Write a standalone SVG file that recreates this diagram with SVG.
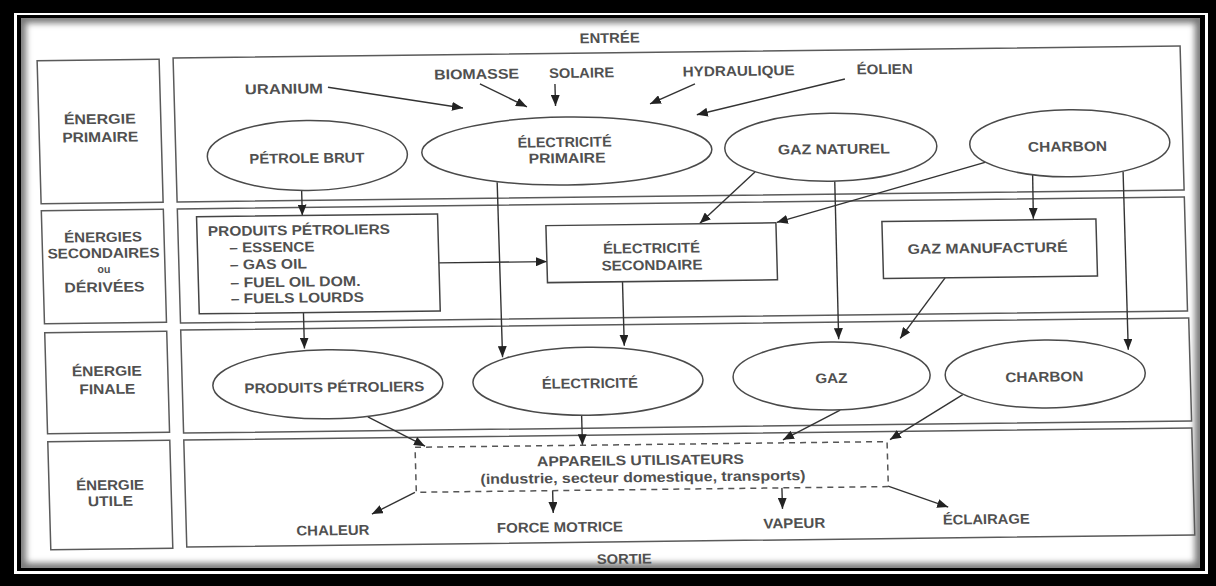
<svg xmlns="http://www.w3.org/2000/svg" width="1216" height="586" viewBox="0 0 1216 586">
<style>
.t{font-family:"Liberation Sans",Arial,sans-serif;font-size:14px;font-weight:bold;fill:#505050;text-anchor:middle}
.s{font-family:"Liberation Sans",Arial,sans-serif;font-size:14px;font-weight:bold;fill:#505050;text-anchor:start}
.box{fill:none;stroke:#5a5a5a;stroke-width:1.5}
.nd{fill:#fff;stroke:#4a4a4a;stroke-width:1.5}
.dash{fill:none;stroke:#555;stroke-width:1.5;stroke-dasharray:6 5}
.c{fill:none;stroke:#333;stroke-width:1.4;marker-end:url(#ah)}
</style>
<defs>
<marker id="ah" markerUnits="userSpaceOnUse" markerWidth="12" markerHeight="9" refX="11" refY="4.5" orient="auto">
<path d="M0,0 L11,4.5 L0,9 z" fill="#222"/>
</marker>
<clipPath id="inner"><rect x="21" y="18" width="1179" height="550"/></clipPath>
<filter id="blur" x="-5%" y="-5%" width="110%" height="110%"><feGaussianBlur stdDeviation="3"/></filter>
</defs>
<rect x="0" y="0" width="1216" height="586" fill="#000"/>
<rect x="14" y="13" width="1194" height="561" fill="#fff"/>
<rect x="17" y="15" width="1188" height="556" fill="#000"/>
<rect x="21" y="18" width="1179" height="550" fill="#fff"/>
<g clip-path="url(#inner)"><rect x="21" y="18" width="1179" height="550" fill="none" stroke="#777" stroke-width="10" filter="url(#blur)"/></g>

<g transform="matrix(1,-0.012,0.028,1,-8.4,7.2)">
<g id="frame-labels">
<text class="t" x="617" y="43" textLength="60" lengthAdjust="spacingAndGlyphs">ENTRÉE</text>
<text class="t" x="617" y="564" textLength="55" lengthAdjust="spacingAndGlyphs">SORTIE</text>
</g>
<g id="row-primaire">
<rect class="box" x="44" y="54" width="122" height="143"/>
<rect class="box" x="180" y="53" width="1007" height="144"/>
<text class="t" x="105" y="118" textLength="72" lengthAdjust="spacingAndGlyphs">ÉNERGIE</text>
<text class="t" x="105" y="136" textLength="76" lengthAdjust="spacingAndGlyphs">PRIMAIRE</text>
</g>
<g id="row-secondaire">
<rect class="box" x="44" y="204" width="122" height="113"/>
<rect class="box" x="180" y="204" width="1007" height="114"/>
<text class="t" x="105" y="236" textLength="78" lengthAdjust="spacingAndGlyphs">ÉNERGIES</text>
<text class="t" x="105" y="252" textLength="112" lengthAdjust="spacingAndGlyphs">SECONDAIRES</text>
<text class="t" x="105" y="267" style="font-size:11px" textLength="13" lengthAdjust="spacingAndGlyphs">ou</text>
<text class="t" x="105" y="286" textLength="80" lengthAdjust="spacingAndGlyphs">DÉRIVÉES</text>
</g>
<g id="row-finale">
<rect class="box" x="44" y="326" width="122" height="101"/>
<rect class="box" x="180" y="325" width="1008" height="103"/>
<text class="t" x="105" y="370" textLength="70" lengthAdjust="spacingAndGlyphs">ÉNERGIE</text>
<text class="t" x="105" y="388" textLength="56" lengthAdjust="spacingAndGlyphs">FINALE</text>
</g>
<g id="row-utile">
<rect class="box" x="44" y="435" width="122" height="108"/>
<rect class="box" x="180" y="435" width="1008" height="107"/>
<text class="t" x="105" y="484" textLength="68" lengthAdjust="spacingAndGlyphs">ÉNERGIE</text>
<text class="t" x="105" y="500" textLength="45" lengthAdjust="spacingAndGlyphs">UTILE</text>
</g>

<g id="connectors">
<path class="c" d="M334,84 L468.4,106.4"/>
<path class="c" d="M486,82.6 L532.4,106"/>
<path class="c" d="M561,83.5 L561,105.5"/>
<path class="c" d="M701,85 L655.5,104.6"/>
<path class="c" d="M851,82 L702,116"/>
<path class="c" d="M304.8,187 L304.8,212"/>
<path class="c" d="M303.2,309 L303.2,345"/>
<path class="c" d="M440,261 L548,261"/>
<path class="c" d="M500.5,181 L501,356"/>
<path class="c" d="M623,282 L623,346"/>
<path class="c" d="M758.5,174 L702,224.5"/>
<path class="c" d="M988.7,167 L779,224.5"/>
<path class="c" d="M838,184 L837.5,342"/>
<path class="c" d="M1036,180 L1035.5,224"/>
<path class="c" d="M1126.5,178 L1126.7,356"/>
<path class="c" d="M945.6,282 L899,342"/>
<path class="c" d="M364.7,414 L421,444"/>
<path class="c" d="M578.4,415 L578.4,445"/>
<path class="c" d="M837,413 L779,442"/>
<path class="c" d="M960,399 L886,443"/>
<path class="c" d="M409.6,490 L366,511.3"/>
<path class="c" d="M547.3,490 L547.3,512.4"/>
<path class="c" d="M776.6,490 L776.6,511"/>
<path class="c" d="M882.8,489.5 L942.3,511.2"/>
</g>

<g id="sources">
<text class="t" x="290" y="90" textLength="78" lengthAdjust="spacingAndGlyphs">URANIUM</text>
<text class="t" x="483" y="77.5" textLength="85" lengthAdjust="spacingAndGlyphs">BIOMASSE</text>
<text class="t" x="588" y="77.5" textLength="65" lengthAdjust="spacingAndGlyphs">SOLAIRE</text>
<text class="t" x="745" y="77.5" textLength="112" lengthAdjust="spacingAndGlyphs">HYDRAULIQUE</text>
<text class="t" x="891" y="77.5" textLength="56" lengthAdjust="spacingAndGlyphs">ÉOLIEN</text>
</g>

<g id="petrole-brut">
<ellipse class="nd" cx="311.5" cy="152" rx="100" ry="35"/>
<text class="t" x="311" y="159.5" textLength="115" lengthAdjust="spacingAndGlyphs">PÉTROLE BRUT</text>
</g>
<g id="electricite-primaire">
<ellipse class="nd" cx="571" cy="150.6" rx="145" ry="34"/>
<text class="t" x="569" y="146.6" textLength="94" lengthAdjust="spacingAndGlyphs">ÉLECTRICITÉ</text>
<text class="t" x="571" y="162.6" textLength="77" lengthAdjust="spacingAndGlyphs">PRIMAIRE</text>
</g>
<g id="gaz-naturel">
<ellipse class="nd" cx="835" cy="150" rx="106" ry="34"/>
<text class="t" x="838" y="156.8" textLength="112" lengthAdjust="spacingAndGlyphs">GAZ NATUREL</text>
</g>
<g id="charbon-primaire">
<ellipse class="nd" cx="1074" cy="149" rx="100" ry="33.5"/>
<text class="t" x="1071.6" y="157" textLength="79" lengthAdjust="spacingAndGlyphs">CHARBON</text>
</g>

<g id="produits-petroliers-box">
<rect class="box" x="199" y="212" width="241" height="97" style="stroke:#444"/>
<text class="s" x="210" y="231.4" textLength="182" lengthAdjust="spacingAndGlyphs">PRODUITS PÉTROLIERS</text>
<text class="s" x="231" y="248" textLength="85" lengthAdjust="spacingAndGlyphs">– ESSENCE</text>
<text class="s" x="231" y="265" textLength="77" lengthAdjust="spacingAndGlyphs">– GAS OIL</text>
<text class="s" x="231" y="283" textLength="130" lengthAdjust="spacingAndGlyphs">– FUEL OIL DOM.</text>
<text class="s" x="231" y="299" textLength="133" lengthAdjust="spacingAndGlyphs">– FUELS LOURDS</text>
</g>
<g id="electricite-secondaire">
<rect class="box" x="548" y="225" width="230" height="57" style="stroke:#444"/>
<text class="t" x="653" y="253.6" textLength="97" lengthAdjust="spacingAndGlyphs">ÉLECTRICITÉ</text>
<text class="t" x="653" y="270.6" textLength="101" lengthAdjust="spacingAndGlyphs">SECONDAIRE</text>
</g>
<g id="gaz-manufacture">
<rect class="box" x="884" y="225" width="214" height="57" style="stroke:#444"/>
<text class="t" x="989" y="257.6" textLength="160" lengthAdjust="spacingAndGlyphs">GAZ MANUFACTURÉ</text>
</g>

<g id="produits-petroliers-final">
<ellipse class="nd" cx="325.6" cy="381" rx="115" ry="34.5"/>
<text class="t" x="332" y="389" textLength="180" lengthAdjust="spacingAndGlyphs">PRODUITS PÉTROLIERS</text>
</g>
<g id="electricite-finale">
<ellipse class="nd" cx="585.7" cy="381" rx="115" ry="34"/>
<text class="t" x="587.6" y="388" textLength="96" lengthAdjust="spacingAndGlyphs">ÉLECTRICITÉ</text>
</g>
<g id="gaz-final">
<ellipse class="nd" cx="829.4" cy="378.8" rx="98.5" ry="34"/>
<text class="t" x="829" y="385.8" textLength="32" lengthAdjust="spacingAndGlyphs">GAZ</text>
</g>
<g id="charbon-final">
<ellipse class="nd" cx="1043" cy="379.3" rx="100" ry="34"/>
<text class="t" x="1042" y="387" textLength="78" lengthAdjust="spacingAndGlyphs">CHARBON</text>
</g>

<g id="appareils">
<rect class="dash" x="411" y="445" width="472" height="45"/>
<text class="t" x="636" y="465.5" textLength="207" lengthAdjust="spacingAndGlyphs">APPAREILS UTILISATEURS</text>
<text class="t" x="638" y="482.5" textLength="325" lengthAdjust="spacingAndGlyphs">(industrie, secteur domestique, transports)</text>
</g>
<g id="outputs">
<text class="t" x="326.6" y="531.8" textLength="73" lengthAdjust="spacingAndGlyphs">CHALEUR</text>
<text class="t" x="553.6" y="531.5" textLength="126" lengthAdjust="spacingAndGlyphs">FORCE MOTRICE</text>
<text class="t" x="788" y="530.3" textLength="62" lengthAdjust="spacingAndGlyphs">VAPEUR</text>
<text class="t" x="980" y="528.6" textLength="87" lengthAdjust="spacingAndGlyphs">ÉCLAIRAGE</text>
</g>
</g>
</svg>
